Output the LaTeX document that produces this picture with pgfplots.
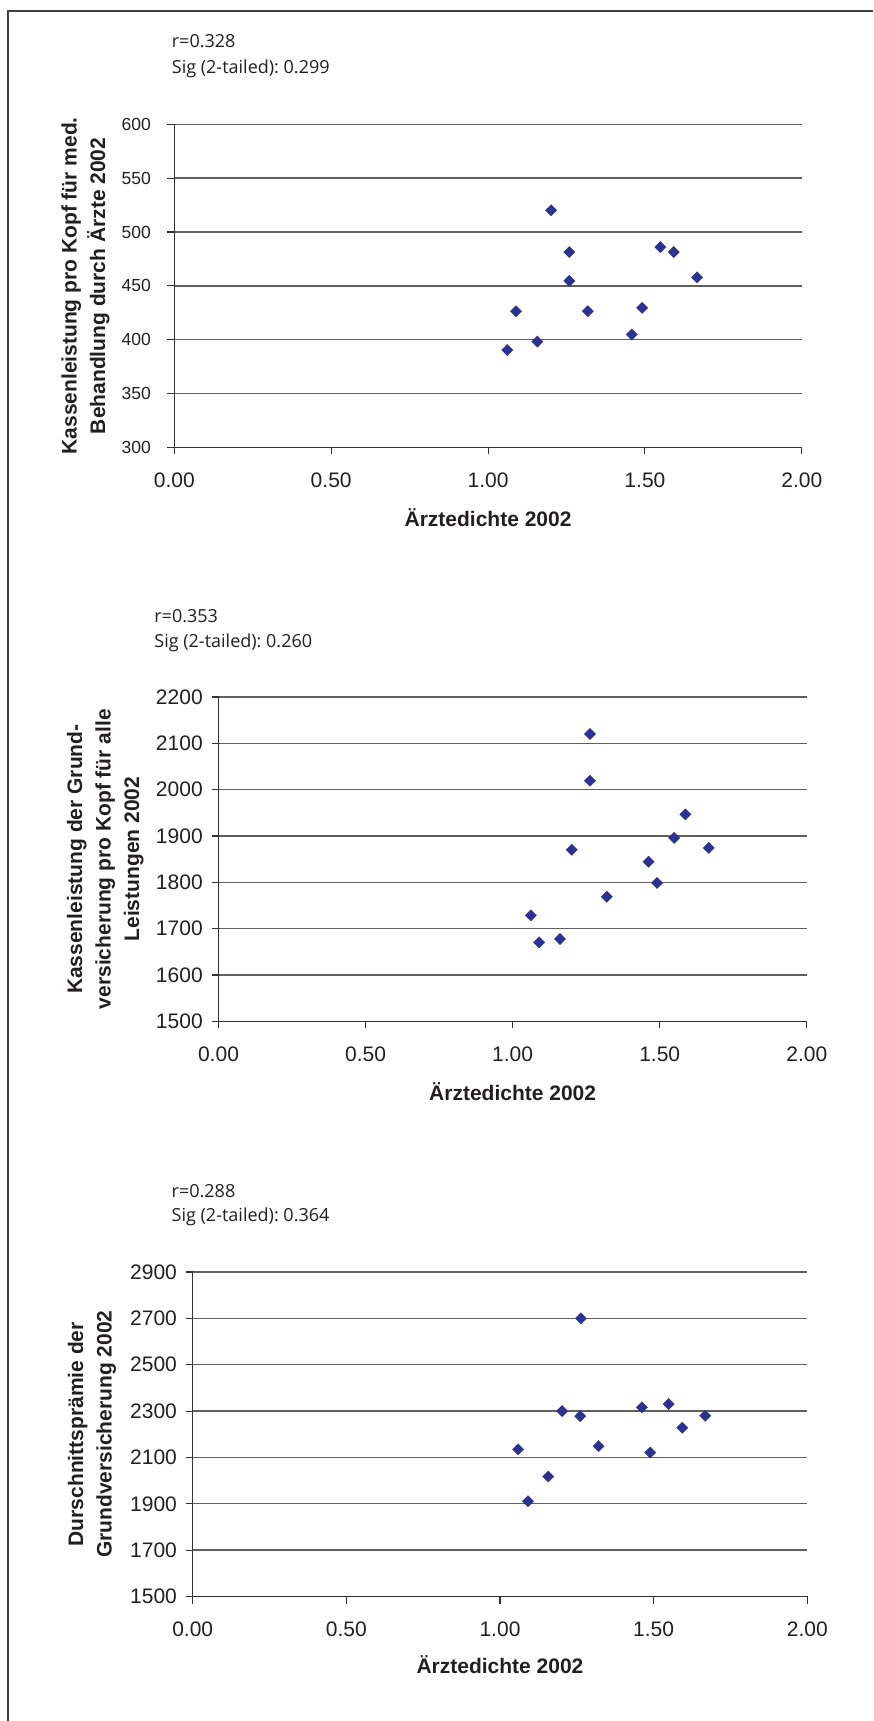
\documentclass[border=0pt]{standalone}
\usepackage{fontspec}
\setmainfont{Liberation Sans}
\newfontfamily\annot{Open Sans}
\usepackage{pgfplots}
\pgfplotsset{compat=1.18}
\definecolor{mk}{RGB}{45,50,145}
\definecolor{gridc}{RGB}{95,95,95}
\definecolor{axc}{RGB}{50,50,50}
\definecolor{txt}{RGB}{35,31,32}

\pgfplotstableread{
x y
1.061 390.5
1.089 426.5
1.157 398.3
1.201 520.2
1.259 481.4
1.259 454.7
1.318 426.5
1.458 404.8
1.491 429.6
1.549 486.0
1.592 481.4
1.666 457.9
}\tabA
\pgfplotstableread{
x y
1.062 1728.7
1.090 1670.5
1.161 1677.8
1.201 1870.5
1.263 2120.2
1.263 2019.4
1.320 1769.1
1.462 1844.6
1.491 1798.7
1.549 1895.8
1.587 1946.7
1.667 1874.2
}\tabB
\pgfplotstableread{
x y
1.059 2135
1.091 1911
1.157 2018
1.202 2300
1.263 2700
1.261 2278
1.321 2149
1.462 2316
1.489 2121
1.549 2330
1.593 2228
1.668 2280
}\tabC

\pgfplotsset{
  base/.style={
    scale only axis, anchor=south west,
    xmin=0, xmax=2, xtick={0,0.5,1,1.5,2},
    xticklabels={0.00,0.50,1.00,1.50,2.00},
    axis x line*=bottom, axis y line*=left,
    tick align=outside, major tick length=7pt,
    ymajorgrids, grid style={gridc, line width=1.3pt},
    axis line style={axc, line width=1.3pt},
    tick style={axc, line width=1.1pt},
    /pgf/number format/assume math mode=true,
    /pgf/number format/1000 sep={},
    xticklabel style={font=\fontsize{21}{25}\selectfont, anchor=base, inner sep=0pt, yshift=-33pt, text=txt},
    yticklabel style={anchor=east, inner sep=0pt, text=txt},
    xlabel={Ärztedichte 2002},
    xlabel style={font=\bfseries\fontsize{21}{28}\selectfont, at={(axis description cs:0.5,0)}, anchor=base, text=txt},
    ylabel style={font=\bfseries\fontsize{21}{28.5}\selectfont, align=center, anchor=center, text=txt},
  },
  pts/.style={only marks, mark=square*, mark size=4pt, mark options={rotate=45, fill=mk, draw=mk, line width=0.3pt}},
}

\begin{document}
\frenchspacing
\begin{tikzpicture}
\path[use as bounding box] (0,0) rectangle (873pt,1721pt);
\draw[line width=2pt, black!75] (8pt,0pt) -- (8pt,1710.3pt) -- (873pt,1710.3pt);

% Plot 1
\begin{axis}[base,
  at={(174.3pt,1273.5pt)}, width=627.5pt, height=323.2pt,
  ymin=300, ymax=600, ytick={300,350,...,600},
  yticklabel style={font=\fontsize{17.5}{20}\selectfont, xshift=-16.3pt},
  xlabel style={yshift=-79pt},
  ylabel={Kassenleistung pro Kopf für med.\\Behandlung durch Ärzte 2002},
  ylabel style={at={(axis description cs:-0.1415,0.5)}},
]
\addplot[pts] table[x=x,y=y] {\tabA};
\end{axis}
\node[anchor=base west, inner sep=0pt, font=\annot\fontsize{18}{22}\selectfont, text=txt] at (171.7pt,1673.7pt) {r=0.328};
\node[anchor=base west, inner sep=0pt, font=\annot\fontsize{18}{22}\selectfont, text=txt] at (171.7pt,1647.7pt) {Sig (2-tailed): 0.299};

% Plot 2
\begin{axis}[base,
  at={(218.5pt,699.6pt)}, width=588.3pt, height=324.4pt,
  ymin=1500, ymax=2200, ytick={1500,1600,...,2200},
  yticklabel style={font=\fontsize{21}{25}\selectfont, xshift=-8.6pt},
  xlabel style={yshift=-78.8pt},
  ylabel={Kassenleistung der Grund-\\versicherung pro Kopf für alle\\Leistungen 2002},
  ylabel style={at={(axis description cs:-0.1926,0.5)}},
]
\addplot[pts] table[x=x,y=y] {\tabB};
\end{axis}
\node[anchor=base west, inner sep=0pt, font=\annot\fontsize{18}{22}\selectfont, text=txt] at (154.2pt,1098.5pt) {r=0.353};
\node[anchor=base west, inner sep=0pt, font=\annot\fontsize{18}{22}\selectfont, text=txt] at (154.2pt,1073.8pt) {Sig (2-tailed): 0.260};

% Plot 3
\begin{axis}[base,
  at={(192.7pt,124.5pt)}, width=614.6pt, height=324.5pt,
  ymin=1500, ymax=2900, ytick={1500,1700,...,2900},
  yticklabel style={font=\fontsize{21}{25}\selectfont, xshift=-8.6pt},
  xlabel style={yshift=-76.5pt},
  ylabel={Durschnittsprämie der\\Grundversicherung 2002},
  ylabel style={at={(axis description cs:-0.164,0.5)}},
]
\addplot[pts] table[x=x,y=y] {\tabC};
\end{axis}
\node[anchor=base west, inner sep=0pt, font=\annot\fontsize{18}{22}\selectfont, text=txt] at (171.5pt,523.7pt) {r=0.288};
\node[anchor=base west, inner sep=0pt, font=\annot\fontsize{18}{22}\selectfont, text=txt] at (171.5pt,499pt) {Sig (2-tailed): 0.364};
\end{tikzpicture}
\end{document}
